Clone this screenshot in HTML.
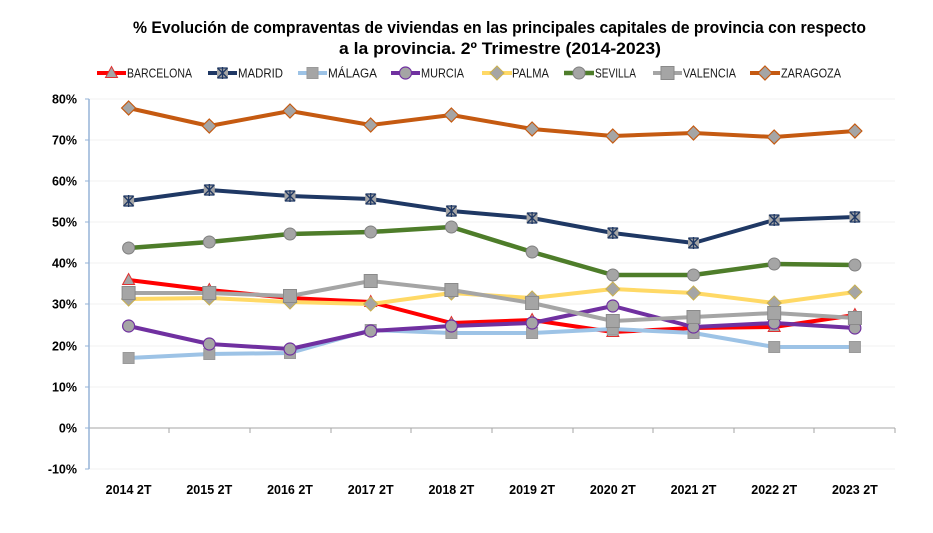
<!DOCTYPE html>
<html><head><meta charset="utf-8"><style>
html,body{margin:0;padding:0;background:#fff;}
svg{display:block;font-family:"Liberation Sans",Arial,sans-serif;}
</style></head><body>
<svg width="933" height="533" viewBox="0 0 933 533" xmlns="http://www.w3.org/2000/svg">
<rect width="933" height="533" fill="#fff"/>
<!-- Title -->
<text x="499.5" y="33" font-size="17" font-weight="bold" text-anchor="middle" textLength="733" lengthAdjust="spacingAndGlyphs" fill="#000">% Evolución de compraventas de viviendas en las principales capitales de provincia con respecto</text>
<text x="500" y="54" font-size="17" font-weight="bold" text-anchor="middle" textLength="322" lengthAdjust="spacingAndGlyphs" fill="#000">a la provincia.  2º Trimestre (2014-2023)</text>

<!-- Gridlines -->
<g stroke="#f0f0f0" stroke-width="1">
<line x1="89" y1="99" x2="895" y2="99"/>
<line x1="89" y1="140" x2="895" y2="140"/>
<line x1="89" y1="181" x2="895" y2="181"/>
<line x1="89" y1="222" x2="895" y2="222"/>
<line x1="89" y1="263" x2="895" y2="263"/>
<line x1="89" y1="304" x2="895" y2="304"/>
<line x1="89" y1="346" x2="895" y2="346"/>
<line x1="89" y1="387" x2="895" y2="387"/>
<line x1="89" y1="469" x2="895" y2="469"/>
</g>
<!-- Zero axis -->
<line x1="89" y1="428" x2="895" y2="428" stroke="#a6a6a6" stroke-width="1"/>
<g stroke="#a6a6a6" stroke-width="1">
<line x1="169" y1="428" x2="169" y2="433"/><line x1="250" y1="428" x2="250" y2="433"/>
<line x1="331" y1="428" x2="331" y2="433"/><line x1="411" y1="428" x2="411" y2="433"/>
<line x1="492" y1="428" x2="492" y2="433"/><line x1="573" y1="428" x2="573" y2="433"/>
<line x1="653" y1="428" x2="653" y2="433"/><line x1="734" y1="428" x2="734" y2="433"/>
<line x1="814" y1="428" x2="814" y2="433"/><line x1="895" y1="428" x2="895" y2="433"/>
</g>
<!-- Y axis -->
<line x1="89" y1="99" x2="89" y2="469" stroke="#95b3d7" stroke-width="1.5"/>
<g stroke="#95b3d7" stroke-width="1">
<line x1="85" y1="99" x2="89" y2="99"/><line x1="85" y1="140" x2="89" y2="140"/>
<line x1="85" y1="181" x2="89" y2="181"/><line x1="85" y1="222" x2="89" y2="222"/>
<line x1="85" y1="263" x2="89" y2="263"/><line x1="85" y1="304" x2="89" y2="304"/>
<line x1="85" y1="346" x2="89" y2="346"/><line x1="85" y1="387" x2="89" y2="387"/>
<line x1="85" y1="428" x2="89" y2="428"/><line x1="85" y1="469" x2="89" y2="469"/>
</g>
<!-- Y labels -->
<g font-size="12.5" font-weight="bold" text-anchor="end" fill="#000">
<text x="77" y="103.5">80%</text>
<text x="77" y="144.5">70%</text>
<text x="77" y="185.5">60%</text>
<text x="77" y="226.5">50%</text>
<text x="77" y="267.5">40%</text>
<text x="77" y="308.5">30%</text>
<text x="77" y="350.5">20%</text>
<text x="77" y="391.5">10%</text>
<text x="77" y="432.5">0%</text>
<text x="77" y="473.5">-10%</text>
</g>
<!-- X labels -->
<g font-size="12.5" font-weight="bold" text-anchor="middle" fill="#000">
<text x="128.6" y="494">2014 2T</text>
<text x="209.3" y="494">2015 2T</text>
<text x="290" y="494">2016 2T</text>
<text x="370.7" y="494">2017 2T</text>
<text x="451.4" y="494">2018 2T</text>
<text x="532.1" y="494">2019 2T</text>
<text x="612.8" y="494">2020 2T</text>
<text x="693.5" y="494">2021 2T</text>
<text x="774.2" y="494">2022 2T</text>
<text x="854.9" y="494">2023 2T</text>
</g>

<defs>
<g id="tri"><polygon points="0,-6.5 6,4.5 -6,4.5" fill="#a5a5a5" stroke="#e03030" stroke-width="1"/></g>
<g id="ast"><rect x="-5.5" y="-5.5" width="11" height="11" fill="#a5a5a5"/><path d="M-5,-5 L5,5 M5,-5 L-5,5 M0,-6 L0,6 M-5,-5 L5,-5 M-5,5 L5,5" stroke="#1f3864" stroke-width="1.3" fill="none"/></g>
<g id="sqm"><rect x="-5.5" y="-5.5" width="11" height="11" fill="#a5a5a5" stroke="#9a9a9a" stroke-width="1"/></g>
<g id="cirm"><circle r="6" fill="#a5a5a5" stroke="#7030a0" stroke-width="1.2"/></g>
<g id="diap"><polygon points="0,-7 7,0 0,7 -7,0" fill="#a5a5a5" stroke="#c9b050" stroke-width="1"/></g>
<g id="cirs"><circle r="6" fill="#a5a5a5" stroke="#808080" stroke-width="1"/></g>
<g id="sqv"><rect x="-6.5" y="-6.5" width="13" height="13" fill="#a5a5a5" stroke="#8a8a8a" stroke-width="1"/></g>
<g id="diaz"><polygon points="0,-7 7,0 0,7 -7,0" fill="#a5a5a5" stroke="#c55a11" stroke-width="1.2"/></g>
</defs>

<!-- Barcelona -->
<polyline fill="none" stroke="#ff0000" stroke-width="4" stroke-linejoin="round" points="128.6,280 209.3,290 290,298 370.7,302 451.4,323 532.1,320 612.8,332 693.5,328 774.2,327 854.9,315"/>
<g><use href="#tri" x="128.6" y="280"/><use href="#tri" x="209.3" y="290"/><use href="#tri" x="290" y="298"/><use href="#tri" x="370.7" y="302"/><use href="#tri" x="451.4" y="323"/><use href="#tri" x="532.1" y="320"/><use href="#tri" x="612.8" y="332"/><use href="#tri" x="693.5" y="328"/><use href="#tri" x="774.2" y="327"/><use href="#tri" x="854.9" y="315"/></g>
<!-- Madrid -->
<polyline fill="none" stroke="#1f3864" stroke-width="4" stroke-linejoin="round" points="128.6,201 209.3,190 290,196 370.7,199 451.4,211 532.1,218 612.8,233 693.5,243 774.2,220 854.9,217"/>
<g><use href="#ast" x="128.6" y="201"/><use href="#ast" x="209.3" y="190"/><use href="#ast" x="290" y="196"/><use href="#ast" x="370.7" y="199"/><use href="#ast" x="451.4" y="211"/><use href="#ast" x="532.1" y="218"/><use href="#ast" x="612.8" y="233"/><use href="#ast" x="693.5" y="243"/><use href="#ast" x="774.2" y="220"/><use href="#ast" x="854.9" y="217"/></g>
<!-- Malaga -->
<polyline fill="none" stroke="#9dc3e6" stroke-width="4" stroke-linejoin="round" points="128.6,358 209.3,354 290,353 370.7,330 451.4,333 532.1,333 612.8,329 693.5,333 774.2,347 854.9,347"/>
<g><use href="#sqm" x="128.6" y="358"/><use href="#sqm" x="209.3" y="354"/><use href="#sqm" x="290" y="353"/><use href="#sqm" x="370.7" y="330"/><use href="#sqm" x="451.4" y="333"/><use href="#sqm" x="532.1" y="333"/><use href="#sqm" x="612.8" y="329"/><use href="#sqm" x="693.5" y="333"/><use href="#sqm" x="774.2" y="347"/><use href="#sqm" x="854.9" y="347"/></g>
<!-- Murcia -->
<polyline fill="none" stroke="#7030a0" stroke-width="4" stroke-linejoin="round" points="128.6,326 209.3,344 290,349 370.7,331 451.4,326 532.1,323 612.8,306 693.5,327 774.2,323 854.9,328"/>
<g><use href="#cirm" x="128.6" y="326"/><use href="#cirm" x="209.3" y="344"/><use href="#cirm" x="290" y="349"/><use href="#cirm" x="370.7" y="331"/><use href="#cirm" x="451.4" y="326"/><use href="#cirm" x="532.1" y="323"/><use href="#cirm" x="612.8" y="306"/><use href="#cirm" x="693.5" y="327"/><use href="#cirm" x="774.2" y="323"/><use href="#cirm" x="854.9" y="328"/></g>
<!-- Palma -->
<polyline fill="none" stroke="#ffd966" stroke-width="4" stroke-linejoin="round" points="128.6,299 209.3,298 290,302 370.7,304 451.4,293 532.1,298 612.8,289 693.5,293 774.2,303 854.9,292"/>
<g><use href="#diap" x="128.6" y="299"/><use href="#diap" x="209.3" y="298"/><use href="#diap" x="290" y="302"/><use href="#diap" x="370.7" y="304"/><use href="#diap" x="451.4" y="293"/><use href="#diap" x="532.1" y="298"/><use href="#diap" x="612.8" y="289"/><use href="#diap" x="693.5" y="293"/><use href="#diap" x="774.2" y="303"/><use href="#diap" x="854.9" y="292"/></g>
<!-- Sevilla -->
<polyline fill="none" stroke="#4e7d2a" stroke-width="4.5" stroke-linejoin="round" points="128.6,248 209.3,242 290,234 370.7,232 451.4,227 532.1,252 612.8,275 693.5,275 774.2,264 854.9,265"/>
<g><use href="#cirs" x="128.6" y="248"/><use href="#cirs" x="209.3" y="242"/><use href="#cirs" x="290" y="234"/><use href="#cirs" x="370.7" y="232"/><use href="#cirs" x="451.4" y="227"/><use href="#cirs" x="532.1" y="252"/><use href="#cirs" x="612.8" y="275"/><use href="#cirs" x="693.5" y="275"/><use href="#cirs" x="774.2" y="264"/><use href="#cirs" x="854.9" y="265"/></g>
<!-- Valencia -->
<polyline fill="none" stroke="#a5a5a5" stroke-width="4" stroke-linejoin="round" points="128.6,293 209.3,293 290,296 370.7,281 451.4,290 532.1,303 612.8,321 693.5,317 774.2,313 854.9,318"/>
<g><use href="#sqv" x="128.6" y="293"/><use href="#sqv" x="209.3" y="293"/><use href="#sqv" x="290" y="296"/><use href="#sqv" x="370.7" y="281"/><use href="#sqv" x="451.4" y="290"/><use href="#sqv" x="532.1" y="303"/><use href="#sqv" x="612.8" y="321"/><use href="#sqv" x="693.5" y="317"/><use href="#sqv" x="774.2" y="313"/><use href="#sqv" x="854.9" y="318"/></g>
<!-- Zaragoza -->
<polyline fill="none" stroke="#c55a11" stroke-width="4" stroke-linejoin="round" points="128.6,108 209.3,126 290,111 370.7,125 451.4,115 532.1,129 612.8,136 693.5,133 774.2,137 854.9,131"/>
<g><use href="#diaz" x="128.6" y="108"/><use href="#diaz" x="209.3" y="126"/><use href="#diaz" x="290" y="111"/><use href="#diaz" x="370.7" y="125"/><use href="#diaz" x="451.4" y="115"/><use href="#diaz" x="532.1" y="129"/><use href="#diaz" x="612.8" y="136"/><use href="#diaz" x="693.5" y="133"/><use href="#diaz" x="774.2" y="137"/><use href="#diaz" x="854.9" y="131"/></g>

<!-- Legend -->
<g font-size="12.5" fill="#1a1a1a">
<line x1="97" y1="73" x2="126" y2="73" stroke="#ff0000" stroke-width="4"/><use href="#tri" x="111.5" y="73"/>
<text x="127" y="77.5" textLength="65" lengthAdjust="spacingAndGlyphs">BARCELONA</text>
<line x1="208" y1="73" x2="237" y2="73" stroke="#1f3864" stroke-width="4"/><use href="#ast" x="222.5" y="73"/>
<text x="238" y="77.5" textLength="45" lengthAdjust="spacingAndGlyphs">MADRID</text>
<line x1="298" y1="73" x2="327" y2="73" stroke="#9dc3e6" stroke-width="4"/><use href="#sqm" x="312.5" y="73"/>
<text x="328" y="77.5" textLength="49" lengthAdjust="spacingAndGlyphs">MÁLAGA</text>
<line x1="391" y1="73" x2="420" y2="73" stroke="#7030a0" stroke-width="4"/><use href="#cirm" x="405.5" y="73"/>
<text x="421" y="77.5" textLength="43" lengthAdjust="spacingAndGlyphs">MURCIA</text>
<line x1="482" y1="73" x2="512" y2="73" stroke="#ffd966" stroke-width="4"/><use href="#diap" x="497" y="73"/>
<text x="512" y="77.5" textLength="37" lengthAdjust="spacingAndGlyphs">PALMA</text>
<line x1="564" y1="73" x2="594" y2="73" stroke="#4e7d2a" stroke-width="4.5"/><use href="#cirs" x="579" y="73"/>
<text x="595" y="77.5" textLength="41" lengthAdjust="spacingAndGlyphs">SEVILLA</text>
<line x1="653" y1="73" x2="682" y2="73" stroke="#a5a5a5" stroke-width="4"/><use href="#sqv" x="667.5" y="73"/>
<text x="683" y="77.5" textLength="53" lengthAdjust="spacingAndGlyphs">VALENCIA</text>
<line x1="750" y1="73" x2="780" y2="73" stroke="#c55a11" stroke-width="4"/><use href="#diaz" x="765" y="73"/>
<text x="781" y="77.5" textLength="60" lengthAdjust="spacingAndGlyphs">ZARAGOZA</text>
</g>
</svg>
</body></html>
